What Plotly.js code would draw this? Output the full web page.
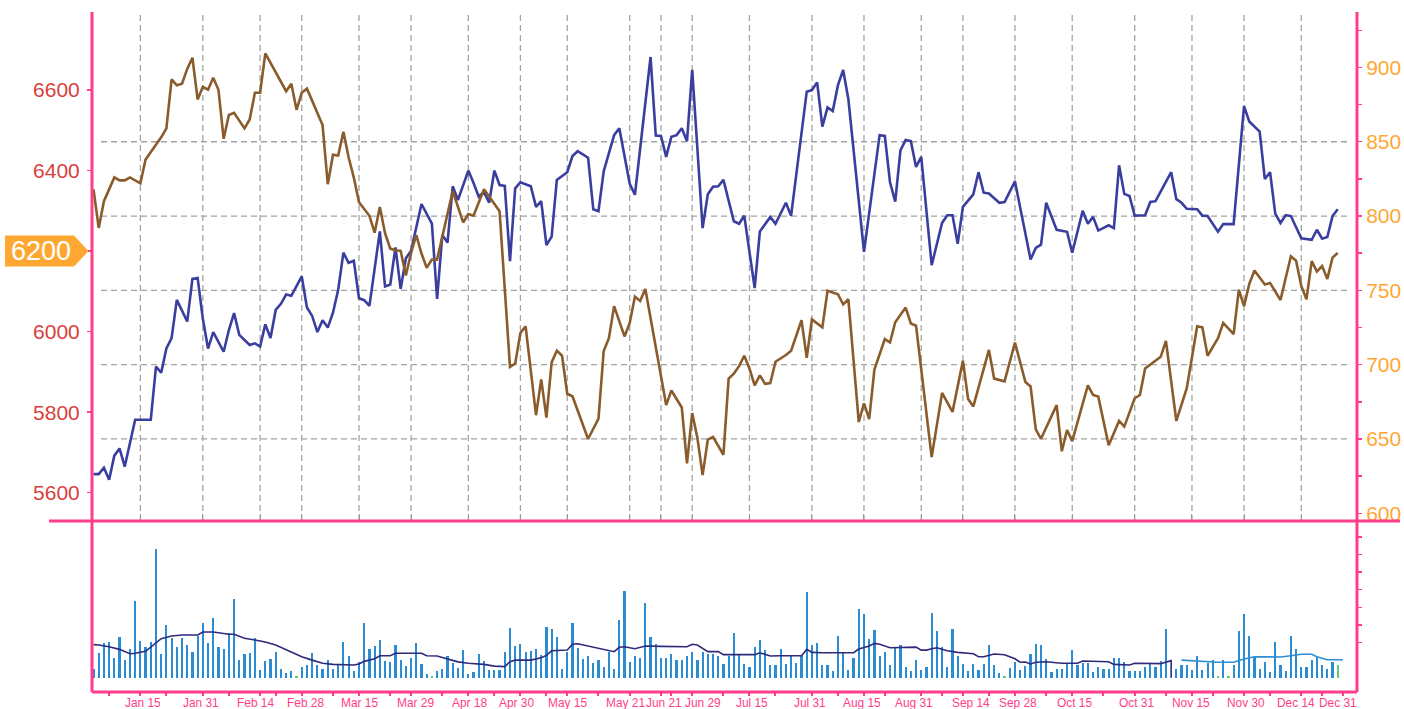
<!DOCTYPE html>
<html><head><meta charset="utf-8">
<script src="https://cdn.plot.ly/plotly-3.0.1.min.js"></script>
<style>html,body{margin:0;padding:0;background:#fff;}#chart{width:1404px;height:709px;}</style>
</head><body><div id="chart"></div>
<script>
// ---- data (trading-day index -> value) ----
const blueDay = [0,1,2,3,4,5,6,8,11,12,13,14,15,16,18,19,20,21,22,23,25,26,27,28,30,31,32,33,34,35,36,37,38,39,40,41,42,43,44,45,46,47,48,49,50,51,52,53,55,56,57,58,59,60,61,63,65,66,67,68,69,70,72,73,74,75,76,77,78,79,80,81,82,84,85,86,87,88,89,91,92,93,95,96,97,98,100,101,103,104,107,108,109,110,111,112,113,114,115,117,118,119,120,121,123,124,125,127,128,130,131,133,134,137,138,139,140,141,142,143,144,145,148,151,152,153,154,155,156,157,158,159,161,163,164,165,166,167,169,170,171,172,174,175,177,180,181,182,183,185,187,188,190,191,192,193,195,196,197,198,199,200,202,203,204,207,208,209,210,212,213,214,216,217,219,221,222,224,225,226,227,228,229,230,232,234,235,236,237,238,239];
const blueVal = [5646,5646,5662,5632,5692,5710,5665,5781,5781,5913,5898,5958,5984,6079,6025,6131,6133,6032,5958,5999,5950,6004,6046,5992,5967,5971,5963,6018,5984,6054,6069,6092,6089,6112,6137,6060,6039,5999,6028,6010,6047,6104,6196,6171,6176,6083,6078,6064,6249,6112,6117,6209,6106,6182,6201,6317,6268,6081,6240,6221,6361,6327,6400,6369,6335,6347,6320,6400,6364,6362,6175,6356,6371,6361,6310,6324,6215,6236,6377,6396,6436,6448,6432,6304,6299,6398,6488,6505,6367,6340,6682,6487,6486,6434,6484,6488,6505,6473,6650,6257,6341,6360,6361,6377,6274,6268,6288,6108,6249,6285,6268,6320,6288,6596,6600,6619,6509,6557,6548,6612,6650,6577,6198,6488,6486,6371,6323,6450,6476,6473,6409,6434,6165,6270,6289,6289,6218,6310,6341,6396,6345,6343,6320,6322,6373,6179,6208,6216,6320,6253,6248,6196,6300,6268,6285,6251,6264,6257,6413,6342,6337,6288,6289,6322,6324,6396,6329,6320,6305,6304,6288,6287,6248,6267,6267,6560,6522,6497,6379,6396,6293,6270,6289,6287,6232,6228,6253,6231,6235,6287,6304];

const brownDay = [0,1,2,4,5,6,7,9,10,11,13,14,15,16,17,18,19,20,21,22,23,24,25,26,27,29,30,31,32,33,37,38,39,40,41,44,45,46,47,48,49,50,51,53,54,55,56,57,58,59,60,61,62,63,64,65,66,69,71,72,73,75,78,80,81,82,83,85,86,87,88,89,90,91,92,95,97,98,99,100,102,103,104,105,106,110,111,113,114,115,116,117,118,119,121,122,123,124,125,126,127,128,129,130,131,133,134,136,137,138,140,141,143,144,145,147,148,149,150,152,153,154,156,157,158,161,163,165,167,168,169,172,173,175,177,179,180,181,182,185,186,187,188,191,192,193,195,197,198,200,201,202,205,206,208,210,212,213,214,216,217,219,220,221,222,223,225,226,228,230,231,232,233,234,235,236,237,238,239];
const brownVal = [818,792,810,826,824,824,826,822,838,843,853,859,892,888,889,899,906.5,878.5,887,885,893,885,852,868,869.5,859,865,883,883,909.5,884,889,871.5,883,885.7,861.2,821.4,841.2,840.7,856.7,839.6,825.9,809.3,800.2,788.8,806.1,788.4,778.1,777,776.6,760,775.2,787.2,774.8,765.2,770.7,770.7,816.8,795.7,801.3,800.2,818,803.2,698.5,700.8,721.3,725.8,666,690.1,664.4,701.5,709.4,706,680.4,678.7,650,663.7,709.2,717.8,739.4,719,728.1,745.8,742.9,750.9,672.8,682.6,671.2,633.6,667.4,650.7,625.7,649.6,651.4,639.4,690.6,694,699,706,697.4,686,692.8,687.1,687.6,702,706.5,709.4,729.9,704.6,730.4,725.1,749.7,747.4,740.6,744,661.4,673.9,663.3,696.7,717.2,714.9,728.5,738.4,727.7,726.2,637.8,681,668.2,702.6,676.9,671.9,709.9,690.6,688.8,714.9,688.3,685.3,656.5,650.1,672.8,641.7,656,648.5,686,679.6,678.5,645.8,662.1,658.3,677.4,679.6,697.4,705.3,716,662.1,684.2,725.8,725.1,706,717.8,728.1,720.6,750.4,739.4,754.2,763.3,754,755,743.5,772.9,770,753,744,769.7,762.7,766.3,757.7,772,775.2];

// daily volume, one per trading day (null = no bar)
const volume = [0.49,1.42,1.95,2.05,1.12,2.31,1.0,1.63,4.38,2.09,
 1.74,2.05,7.3,1.35,3.0,2.26,1.74,2.26,1.86,1.48,
 2.37,3.1,1.95,3.41,1.76,1.63,2.52,4.47,1.0,1.36,
 1.4,2.26,0.42,0.93,1.06,1.44,0.49,0.27,0.38,0.11,
 0.61,0.72,1.42,0.72,0.49,1.02,0.49,0.78,2.03,1.23,
 0.38,0.87,3.1,1.65,1.8,2.12,0.95,0.89,1.86,1.0,
 0.66,1.12,1.97,0.78,0.21,0.1,0.38,0.49,1.25,0.84,
 0.55,1.56,0.22,0.3,1.32,0.97,0.42,0.42,0.42,1.44,
 2.82,1.81,1.9,1.46,1.53,1.63,1.27,2.88,2.78,2.29,
 0.49,1.44,3.1,1.71,1.06,1.23,0.81,0.98,0.6,1.44,
 0.51,3.3,4.9,0.89,1.23,1.12,4.25,2.31,1.93,1.14,
 1.14,1.33,1.0,1.02,1.23,1.44,1.02,1.44,1.36,1.36,
 1.23,0.8,1.23,2.54,1.31,0.8,0.59,1.74,2.16,1.55,
 0.72,0.72,1.65,0.8,1.25,0.84,1.23,4.87,1.84,1.95,
 0.72,0.72,0.38,2.37,1.44,0.44,1.14,3.93,3.63,2.21,
 2.69,1.23,1.44,0.7,1.76,1.86,0.6,0.38,1.02,0.42,
 0.59,3.69,2.66,1.77,0.6,2.78,1.23,0.78,0.38,0.78,
 0.42,0.76,1.86,0.7,0.25,0.1,0.57,0.89,0.44,0.66,
 1.36,1.93,1.84,1.06,0.3,0.49,0.49,0.84,1.6,0.72,
 0.84,0.84,0.3,0.6,0.49,0.49,1.14,1.14,0.89,0.38,
 0.38,0.38,0.6,0.78,0.6,0.97,2.76,null,0.49,0.72,
 0.72,0.42,1.23,0.42,0.84,0.98,0.1,0.98,0.1,0.72,
 2.66,3.63,2.37,1.16,0.49,0.89,0.3,2.05,0.72,0.38,
 2.37,1.65,0.6,0.6,1.0,1.2,0.72,0.49,0.89,0.72];
const flatDays = [39,65,175,216,218,239];

const maDay = [0,1,3,5,7,8,10,12,13,15,17,20,21,23,26,27,29,31,33,35,37,38,40,42,44,46,48,50,51,52,54,55,57,58,63,64,66,68,70,72,75,77,79,80,81,84,86,87,88,91,92,93,100,101,102,104,106,109,114,115,116,118,120,121,127,128,129,130,132,136,137,138,140,146,147,149,150,151,153,155,158,159,160,161,162,164,166,169,170,171,172,173,175,177,178,179,180,181,183,186,189,190,195,196,199,200,205,207,207];
const maVal = [1.88,1.86,1.76,1.61,1.36,1.39,1.5,1.99,2.22,2.37,2.43,2.43,2.6,2.6,2.47,2.47,2.24,2.14,2.03,1.86,1.61,1.48,1.19,1.0,0.82,0.76,0.72,0.72,0.78,0.93,1.08,1.25,1.25,1.39,1.39,1.25,1.23,1.05,0.9,0.82,0.76,0.66,0.63,0.91,1.0,1.0,1.14,1.27,1.53,1.57,1.9,1.93,1.48,1.73,1.76,1.65,1.8,1.78,1.76,1.9,1.86,1.48,1.48,1.31,1.31,1.42,1.33,1.23,1.25,1.25,1.61,1.44,1.42,1.42,1.63,1.8,1.95,1.9,1.7,1.73,1.74,1.57,1.57,1.65,1.7,1.53,1.44,1.36,1.19,1.19,1.29,1.35,1.31,1.08,0.88,0.89,0.78,0.88,0.91,0.82,0.82,0.95,0.91,0.76,0.72,0.82,0.8,0.97,0];
const ma2Day = [209,212,214,216,219,221,223,225,227,228,230,232,234,235,237,240];
const ma2Val = [1.0,0.95,0.89,0.88,0.88,1.06,1.19,1.19,1.16,1.18,1.25,1.33,1.33,1.19,1.02,1.02];

const tickDays = [9,21,32,40,51,61,72,82,91,103,109,115,126,138,148,159,167,177,188,200,211,221,232,240];
const tickLabels = ["Jan 15","Jan 31","Feb 14","Feb 28","Mar 15","Mar 29","Apr 18","Apr 30","May 15","May 21","Jun 21","Jun 29","Jul 15","Jul 31","Aug 15","Aug 31","Sep 14","Sep 28","Oct 15","Oct 31","Nov 15","Nov 30","Dec 14","Dec 31"];
const gridDays = tickDays.slice(0, -1);
const minorDays = [3,14,26,35,46,57,67,77,87,97,111,121,131,143,152,163,172,183,194,206,215,226,236];
const leftTicks = [5600,5800,6000,6200,6400,6600];
const rightTicks = [600,650,700,750,800,850,900];
const rightMinor = [625,675,725,775,825,875,925];
const rightGrid = [650,700,750,800,850];
const volTicks = [2,3,4,5,6,7,8];
const markerValue = 6200;

// ---- layout ----
const W = 1404, H = 709, ML = 92, MR = 47, MT = 12, MB = 17;
const PW = W - ML - MR, PH = H - MT - MB;
const volFrac = 171 / PH;
const leftRange = [5529.7, 6793.8], rightRange = [594.8, 937.3], volRange = [-0.81, 8.9], xRange = [-0.29, 242.7];
// label centres as drawn (labels are nudged apart from their tick marks)
const labelPos = [9.45,20.6,31.2,40.8,51.0,61.8,72.3,81.2,91.1,102.2,109.6,117.0,126.5,137.7,147.7,157.6,168.5,177.5,188.4,200.4,210.9,221.4,231.0,239.1];
const PINK = '#ff3d8b', GRID = '#a3a3a3';
const px2x = p => (p - ML) / PW;
const py2y = p => (H - MB - p) / PH;

const data = [
  {type:'scatter', mode:'lines', x:brownDay, y:brownVal, xaxis:'x', yaxis:'y2',
   line:{color:'#8a5c2c', width:2.6}},
  {type:'scatter', mode:'lines', x:blueDay, y:blueVal, xaxis:'x', yaxis:'y',
   line:{color:'#3a3f9f', width:2.6}},
  {type:'bar', x:volume.map((v,i)=>i), y:volume, xaxis:'x2', yaxis:'y3', width:0.42,
   marker:{color:volume.map((v,i)=>flatDays.includes(i)?'#5fc872':'#2b8bd3'), line:{width:0}}},
  {type:'scatter', mode:'lines', x:maDay, y:maVal, xaxis:'x2', yaxis:'y3',
   line:{color:'#2f2a7c', width:1.6}},
  {type:'scatter', mode:'lines', x:ma2Day, y:ma2Val, xaxis:'x2', yaxis:'y3',
   line:{color:'#2e8fd2', width:1.6}}
];

const shapes = [];
gridDays.forEach(d => shapes.push({type:'line', layer:'below', xref:'x', yref:'paper',
  x0:d, x1:d, y0:py2y(521), y1:py2y(15), line:{color:GRID, width:1.3, dash:'6px,4px'}}));
rightGrid.forEach(v => shapes.push({type:'line', layer:'below', xref:'paper', yref:'y2',
  x0:px2x(101), x1:px2x(1348), y0:v, y1:v, line:{color:GRID, width:1.3, dash:'6px,4px'}}));
// frame
const frame = (x0,y0,x1,y1) => ({type:'line', layer:'above', xref:'paper', yref:'paper', x0, y0, x1, y1, line:{color:PINK, width:3}});
shapes.push(frame(0,0,0,1), frame(1,0,1,1), frame(0,0,1,0), frame(px2x(49), volFrac, px2x(1400), volFrac));
// value badge
const yc = volFrac + (markerValue - leftRange[0]) / (leftRange[1] - leftRange[0]) * (1 - volFrac);
const hh = 15.5 / PH;
const bx0 = px2x(5), bx1 = px2x(74), bx2 = px2x(88.5);
shapes.push({type:'path', layer:'above', xref:'paper', yref:'paper',
  path:`M${bx0},${yc+hh} L${bx1},${yc+hh} L${bx2},${yc} L${bx1},${yc-hh} L${bx0},${yc-hh} Z`,
  fillcolor:'#ffa733', line:{width:0}});

const annotations = [{xref:'paper', yref:'paper', x:(bx0+bx1)/2 + 2/PW, y:yc, xanchor:'center', yanchor:'middle',
    text:String(markerValue), showarrow:false, font:{size:27, color:'#ffffff'}}];
tickLabels.forEach((t, k) => annotations.push({xref:'x2', yref:'paper', x:labelPos[k], y:py2y(702.5),
    xanchor:'center', yanchor:'middle', text:t, showarrow:false, font:{size:11.9, color:PINK}}));

const layout = {
  width:W, height:H, margin:{l:ML, r:MR, t:MT, b:MB, pad:0},
  paper_bgcolor:'#ffffff', plot_bgcolor:'#ffffff', showlegend:false, hovermode:false,
  font:{family:'Liberation Sans, Arial, sans-serif'},
  bargap:0,
  xaxis:{domain:[0,1], anchor:'y', range:xRange, tickmode:'array', tickvals:gridDays,
    showticklabels:false, ticks:'inside', ticklen:7, tickcolor:'#9a9a9a', tickwidth:1,
    showgrid:false, zeroline:false, showline:false},
  xaxis2:{domain:[0,1], anchor:'y3', range:xRange, tickmode:'array', tickvals:tickDays,
    showticklabels:false, ticks:'outside', ticklen:3, tickwidth:2, tickcolor:PINK,
    minor:{tickmode:'array', tickvals:minorDays, ticks:'outside', ticklen:3, tickwidth:2, tickcolor:PINK},
    showgrid:false, zeroline:false, showline:false, automargin:false},
  yaxis:{domain:[volFrac,1], anchor:'x', range:leftRange, tickmode:'array', tickvals:leftTicks,
    ticktext:leftTicks.map(v => v === markerValue ? '' : String(v)), ticklabelstandoff:3,
    ticks:'outside', ticklen:4, tickwidth:1.5, tickcolor:PINK, tickfont:{size:21, color:'#d9403b'},
    showgrid:false, zeroline:false, showline:false},
  yaxis2:{overlaying:'y', side:'right', anchor:'x', range:rightRange, tickmode:'array', tickvals:rightTicks,
    ticks:'outside', ticklen:4, tickwidth:1.5, tickcolor:PINK, tickfont:{size:21, color:'#ffa733'},
    minor:{tickmode:'array', tickvals:rightMinor, ticks:'outside', ticklen:4, tickwidth:1.5, tickcolor:PINK},
    showgrid:false, zeroline:false, showline:false},
  yaxis3:{domain:[0,volFrac], anchor:'x2', side:'right', range:volRange, tickmode:'array', tickvals:volTicks,
    showticklabels:false, ticks:'outside', ticklen:4, tickwidth:1.5, tickcolor:PINK,
    showgrid:false, zeroline:false, showline:false},
  shapes:shapes,
  annotations:annotations
};

Plotly.newPlot('chart', data, layout, {staticPlot:true, displayModeBar:false});
</script>
</body></html>
